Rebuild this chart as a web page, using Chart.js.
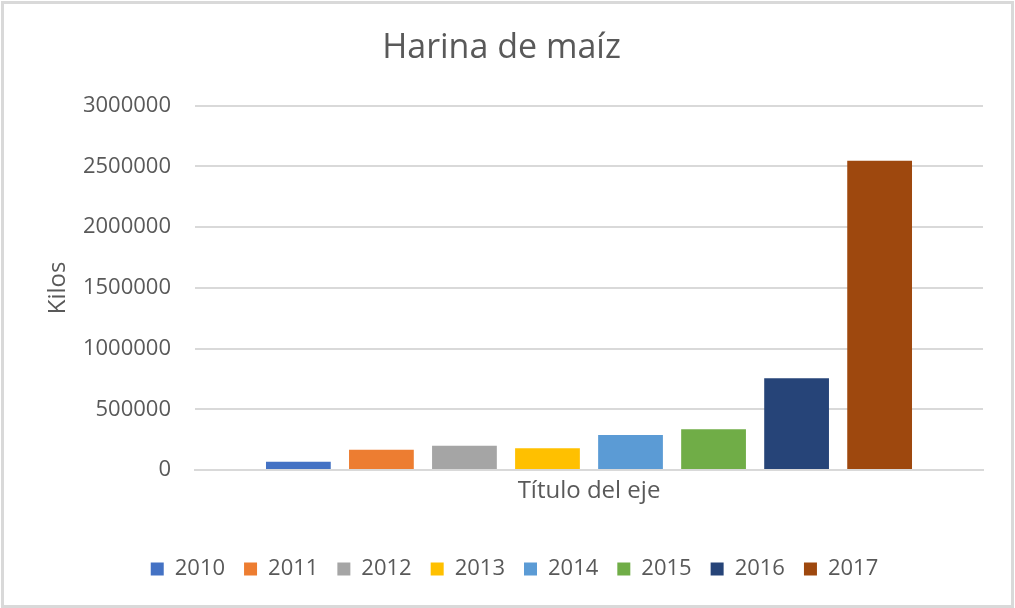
<!DOCTYPE html>
<html>
<head>
<meta charset="utf-8">
<script src="https://cdn.jsdelivr.net/npm/chart.js@4"></script>
<style>
  body { margin: 0; background: #fff; }
</style>
</head>
<body>
<canvas id="myChart" width="1015" height="608"></canvas>
<script>
// datos
const years = ['2010', '2011', '2012', '2013', '2014', '2015', '2016', '2017'];
const kilos = [68000, 167000, 200000, 179000, 288000, 335000, 756000, 2547000];
const colors = ['#4472C4', '#ED7D31', '#A5A5A5', '#FFC000', '#5B9BD5', '#70AD47', '#264478', '#9E480E'];
const yTicks = [0, 500000, 1000000, 1500000, 2000000, 2500000, 3000000];

const gray = '#595959';
const font = 'Open Sans';

var datasets = years.map((y, i) => ({
  label: y,
  data: [kilos[i]],
  backgroundColor: colors[i],
  borderWidth: 0
}));

// marco gris alrededor del grafico + fondo blanco
const frame = {
  id: 'frame',
  beforeDraw(chart) {
    const c = chart.ctx;
    c.save();
    c.fillStyle = '#fff';
    c.fillRect(0, 0, chart.width, chart.height);
    c.strokeStyle = '#d9d9d9';
    c.lineWidth = 3;
    c.strokeRect(2.5, 2.5, chart.width - 5, chart.height - 4);
    c.restore();
  },
  afterLayout(chart) {
    // mover la leyenda un poco a la derecha como en Excel
    chart.legend.left += 13;
    chart.legend.right += 13;
  }
};

var ctx = document.getElementById('myChart').getContext('2d');
var myChart = new Chart(ctx, {
  type: 'bar',
  data: { labels: [''], datasets: datasets },
  plugins: [frame],
  options: {
    responsive: false,
    animation: false,
    layout: { padding: { top: 10, left: 20, right: 32, bottom: 18 } },
    datasets: { bar: { categoryPercentage: 0.843, barPercentage: 0.78 } },
    plugins: {
      title: {
        display: true,
        text: 'Harina de maíz',
        color: gray,
        font: { family: font, size: 34, weight: 'normal' },
        padding: { top: 18, bottom: 37 }
      },
      legend: {
        position: 'bottom',
        labels: {
          color: gray,
          font: { family: font, size: 22 },
          boxWidth: 13,
          boxHeight: 13,
          padding: 19
        }
      },
      tooltip: { enabled: false }
    },
    scales: {
      x: {
        grid: { display: false },
        border: { color: '#d9d9d9', width: 2 },
        ticks: { display: false },
        title: {
          display: true,
          text: 'Título del eje',
          color: gray,
          font: { family: font, size: 24 },
          padding: { top: 0, bottom: 33 }
        },
        afterFit: (scale) => { scale.height = 69; }
      },
      y: {
        min: 0,
        max: 3000000,
        border: { display: false },
        grid: { color: '#d9d9d9', lineWidth: 2, drawTicks: false },
        afterBuildTicks: (scale) => { scale.ticks = yTicks.map(v => ({ value: v })); },
        ticks: {
          color: gray,
          font: { family: font, size: 22 },
          padding: 24,
          callback: (v) => String(v)
        },
        title: {
          display: true,
          text: 'Kilos',
          color: gray,
          font: { family: font, size: 24 },
          padding: { top: 24, bottom: 0 }
        },
        afterFit: (scale) => { scale.width = 175; }
      }
    }
  }
});
</script>
</body>
</html>
